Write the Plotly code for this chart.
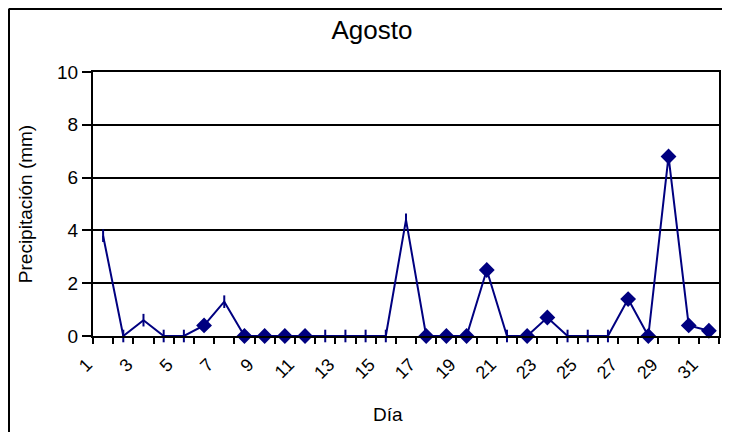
import plotly.graph_objects as go

# ---- data ----
days = list(range(1, 32))
precip = [3.8, 0.0, 0.6, 0.0, 0.0, 0.4, 1.3, 0.0, 0.0, 0.0,
          0.0, 0.0, 0.0, 0.0, 0.0, 4.4, 0.0, 0.0, 0.0, 2.5,
          0.0, 0.0, 0.7, 0.0, 0.0, 0.0, 1.4, 0.0, 6.8, 0.4, 0.2]
# marker shape as drawn in the reference (some render as a short vertical bar)
marker_kind = ["bar", "bar", "bar", "bar", "bar", "dia", "bar", "dia", "dia", "dia",
               "dia", "bar", "bar", "bar", "bar", "bar", "dia", "dia", "dia", "dia",
               "bar", "dia", "dia", "bar", "bar", "bar", "dia", "dia", "dia", "dia", "dia"]
tick_labels = [str(d) if d % 2 == 1 else "" for d in days]

NAVY = "#000080"
FONT = "Liberation Sans, Arial, sans-serif"

symbol_map = {"bar": "line-ns", "dia": "diamond"}
size_map = {"bar": 9, "dia": 10}

W, H = 722, 424
L, T = 85, 64
pw, ph = 626, 264
R, B = W - L - pw, H - T - ph

fig = go.Figure()
fig.add_trace(go.Scatter(
    x=days, y=precip, mode="lines+markers",
    line=dict(color=NAVY, width=2),
    marker=dict(symbol=[symbol_map[k] for k in marker_kind],
                size=[size_map[k] for k in marker_kind],
                opacity=1,
                color=NAVY, line=dict(color=NAVY, width=2)),
    cliponaxis=False, showlegend=False,
))

# outer frame: only its left and top edges fall inside the picture
frame_x = (0.75 - L) / pw
frame_y = 1 + (T - 0.75) / ph
fig.update_layout(
    width=W, height=H,
    margin=dict(l=L, r=R, t=T, b=B, autoexpand=False),
    paper_bgcolor="white", plot_bgcolor="white",
    font=dict(family=FONT, color="black", size=18),
    title=dict(text="Agosto", x=364 / W, xanchor="center",
               y=1 - 22 / H, yanchor="middle",
               font=dict(family=FONT, size=26, color="black")),
    xaxis=dict(
        range=[0.5, 31.5],
        tickmode="array",
        tickvals=[d - 0.5 for d in days] + [days[-1] + 0.5],
        ticktext=tick_labels + [""],
        tickangle=-45,
        ticks="outside", ticklen=6, tickwidth=2, tickcolor="black",
        showline=True, linecolor="black", linewidth=2, mirror=True,
        showgrid=False, zeroline=False,
        tickfont=dict(family=FONT, size=18, color="black"),
        ticklabelshift=-6, ticklabelstandoff=3,
    ),
    yaxis=dict(
        range=[0, 10], dtick=2, tick0=0,
        ticks="outside", ticklen=9, tickwidth=2, tickcolor="black",
        showline=True, linecolor="black", linewidth=2, mirror=True,
        showgrid=True, gridcolor="black", gridwidth=2, zeroline=False,
        tickfont=dict(family=FONT, size=19, color="black"),
        title=dict(text="Precipitación (mm)", standoff=19,
                   font=dict(family=FONT, size=19, color="black")),
    ),
    annotations=[dict(
        text="Día", xref="paper", yref="paper",
        x=(380 - L) / pw, y=-(406 - T - ph) / ph,
        xanchor="center", yanchor="middle", showarrow=False,
        font=dict(family=FONT, size=19, color="black"),
    )],
    shapes=[
        dict(type="line", xref="paper", yref="paper",
             x0=frame_x, x1=frame_x, y0=frame_y, y1=-(H + 5 - T - ph) / ph,
             line=dict(color="black", width=2.5), layer="below"),
        dict(type="line", xref="paper", yref="paper",
             x0=frame_x, x1=(W + 5 - L) / pw, y0=frame_y, y1=frame_y,
             line=dict(color="black", width=2.5), layer="below"),
    ],
)

fig.write_html(
    "out.html",
    post_script="document.documentElement.style.overflow='hidden';"
                "document.body.style.overflow='hidden';",
)
